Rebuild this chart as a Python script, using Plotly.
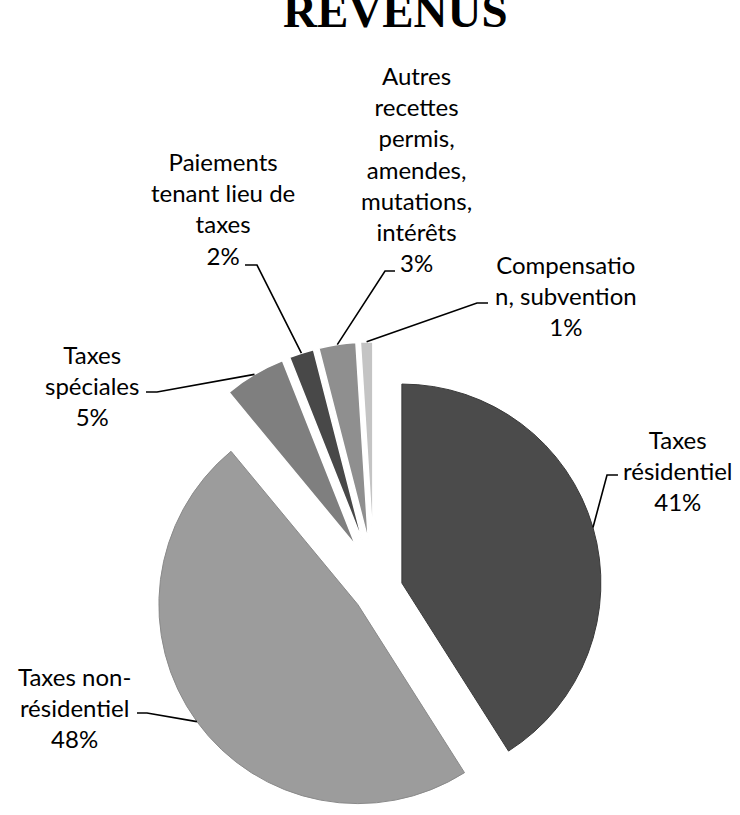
import math
import plotly.graph_objects as go

# ---------------- data ----------------
categories = [
    "Taxes résidentiel",
    "Taxes non-résidentiel",
    "Taxes spéciales",
    "Paiements tenant lieu de taxes",
    "Autres recettes permis, amendes, mutations, intérêts",
    "Compensation, subvention",
]
values = [41, 48, 5, 2, 3, 1]
label_lines = [
    "Taxes<br>résidentiel",
    "Taxes non-<br>résidentiel",
    "Taxes<br>spéciales",
    "Paiements<br>tenant lieu de<br>taxes",
    "Autres<br>recettes<br>permis,<br>amendes,<br>mutations,<br>intérêts",
    "Compensatio<br>n, subvention",
]
title_text = "REVENUS"

# ---------------- style / layout ----------------
W, H = 740, 815
colors = ["#4b4b4b", "#9c9c9c", "#7f7f7f", "#484848", "#8f8f8f", "#c4c4c4"]
big = [True, True, False, False, False, False]

R = 199.0
centerA = (378.0, 590.0)   # big slices (px)
pullA = 0.125
centerB = (374.0, 576.5)   # small slices (px)
pullB = 0.18

label_pos = [(678, 470), (74, 707), (92, 386), (223, 208), (416, 169), (566, 295)]
elbow_pos = [(607, 475), (147, 713), (157, 392), (257, 265), (385, 271), (477, 303)]
end_pos = [(618, 475), (137, 713), (146, 392), (245, 265), (395, 271), (488, 303)]

FONT = "Lato"
FONT_SIZE = 24


def px(x):
    return x / W


def py(y):
    return 1 - y / H


def domain_for(center, pull, halfw=300.0):
    half = R * (1 + pull)
    cx, cy = center
    x0 = max(0.0, px(cx - halfw))
    x1 = min(1.0, px(cx + halfw))
    y0 = max(0.0, py(cy + half))
    y1 = min(1.0, py(cy - half))
    return dict(x=[x0, x1], y=[y0, y1])


transparent = "rgba(0,0,0,0)"

traceA = go.Pie(
    labels=categories, values=values, sort=False, direction="clockwise", rotation=0,
    marker=dict(colors=[c if b else transparent for c, b in zip(colors, big)],
                line=dict(color=["#3a3a3a", "#8a8a8a", transparent, transparent, transparent, transparent],
                          width=[1 if b else 0 for b in big])),
    pull=[pullA if b else 0 for b in big],
    textinfo="none", hoverinfo="label+percent", showlegend=False,
    domain=domain_for(centerA, pullA),
)
traceB = go.Pie(
    labels=categories, values=values, sort=False, direction="clockwise", rotation=0,
    marker=dict(colors=[transparent if b else c for c, b in zip(colors, big)],
                line=dict(color=[transparent if b else "white" for b in big],
                          width=[0 if b else 1.5 for b in big])),
    pull=[0 if b else pullB for b in big],
    textinfo="none", hoverinfo="label+percent", showlegend=False,
    domain=domain_for(centerB, pullB),
)

fig = go.Figure([traceA, traceB])

# slice tips (computed from the data) for leader lines
total = sum(values)
cum = 0.0
shapes = []
annotations = []
for i, v in enumerate(values):
    a0 = cum / total * 360.0
    cum += v
    a1 = cum / total * 360.0
    mid = math.radians((a0 + a1) / 2)
    dx, dy = math.sin(mid), -math.cos(mid)
    cx, cy = centerA if big[i] else centerB
    p = pullA if big[i] else pullB
    dist = R * (1 + p)
    tx, ty = cx + dist * dx, cy + dist * dy
    ex, ey = elbow_pos[i]
    hx, hy = end_pos[i]
    path = "M {:.4f} {:.4f} L {:.4f} {:.4f} L {:.4f} {:.4f}".format(
        px(tx), py(ty), px(ex), py(ey), px(hx), py(hy))
    shapes.append(dict(type="path", xref="paper", yref="paper", path=path,
                       line=dict(color="black", width=1.6)))
    pct = round(v / total * 100)
    lx, ly = label_pos[i]
    annotations.append(dict(
        x=px(lx), y=py(ly), xref="paper", yref="paper",
        text=f"{label_lines[i]}<br>{pct}%", showarrow=False,
        xanchor="center", yanchor="middle", align="center",
        font=dict(family=FONT, size=FONT_SIZE, color="black"),
    ))

annotations.append(dict(
    x=px(395), y=py(11), xref="paper", yref="paper", text=f"<b>{title_text}</b>",
    showarrow=False, xanchor="center", yanchor="middle",
    font=dict(family="Liberation Serif", size=47, color="black"),
))

fig.update_layout(
    width=W, height=H,
    margin=dict(l=0, r=0, t=0, b=0),
    paper_bgcolor="white", plot_bgcolor="white",
    shapes=shapes, annotations=annotations,
)

# remove the default 8px body margin so the figure fills the window
fig.write_html("out.html", config={"displayModeBar": False},
               post_script="document.body.style.margin='0px';")
